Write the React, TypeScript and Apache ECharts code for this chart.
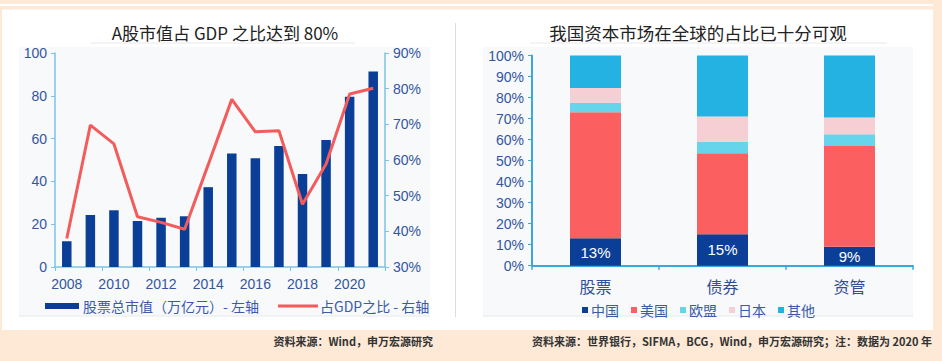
import React, { useEffect, useRef } from "react";
import * as echarts from "echarts";

const years = ["2008", "2009", "2010", "2011", "2012", "2013", "2014", "2015", "2016", "2017", "2018", "2019", "2020", "2021"];
const marketCap = [12, 24.3, 26.5, 21.5, 23, 23.7, 37.3, 53, 50.8, 56.5, 43.5, 59.3, 79.6, 91.3];
const gdpRatio = [38, 69.8, 64.5, 44.1, 42.5, 40.6, 58.7, 77, 67.9, 68.2, 47.6, 58.9, 78.5, 80.1];

const assetTypes = ["股票", "债券", "资管"];
const china = [13, 15, 9];
const usa = [60, 38.5, 48];
const eu = [4.5, 5.5, 5.5];
const japan = [7, 12, 8];
const others = [15.5, 29, 29.5];

const FONT = '"Noto Sans CJK SC", "Noto Sans", sans-serif';
const NUMFONT = '"Liberation Sans", "Noto Sans CJK SC", sans-serif';
const LABEL_BLUE = "#34559e";

export default function App() {
  const ref = useRef<HTMLDivElement>(null);
  useEffect(() => {
    document.body.style.margin = "0";
    const chart = echarts.init(ref.current!, undefined, { renderer: "svg" });
    const option: any = {
      animation: false,
      backgroundColor: "#fde9d6",
      textStyle: { fontFamily: FONT },
      graphic: [
        { type: "rect", z: -10, shape: { x: 0, y: 4, width: 933, height: 2 }, style: { fill: "#ffffff" } },
        { type: "rect", z: -10, shape: { x: 2, y: 9.5, width: 931, height: 320.5 }, style: { fill: "#ffffff" } },
        { type: "rect", z: -9, shape: { x: 19, y: 47, width: 411, height: 269 }, style: { fill: "#f7f9fb" } },
        { type: "rect", z: -9, shape: { x: 483, y: 47, width: 430, height: 269 }, style: { fill: "#f7f9fb" } },
        { type: "line", z: -8, shape: { x1: 19, y1: 316, x2: 430, y2: 316 }, style: { stroke: "#e6e8ea", lineWidth: 1 } },
        { type: "line", z: -8, shape: { x1: 483, y1: 316, x2: 913, y2: 316 }, style: { stroke: "#e6e8ea", lineWidth: 1 } },
        { type: "line", z: -8, shape: { x1: 91, y1: 43, x2: 355, y2: 43 }, style: { stroke: "#e8e8e8", lineWidth: 1 } },
        { type: "line", z: -8, shape: { x1: 530, y1: 43, x2: 887, y2: 43 }, style: { stroke: "#e8e8e8", lineWidth: 1 } },
        { type: "line", z: -8, shape: { x1: 455.5, y1: 23, x2: 455.5, y2: 317 }, style: { stroke: "#dcdcdc", lineWidth: 1 } },
        {
          type: "text", x: 225, y: 32,
          style: { text: "A股市值占 GDP 之比达到 80%", fill: "#222222", font: `17px ${FONT}`, textAlign: "center", textVerticalAlign: "middle" },
        },
        {
          type: "text", x: 698, y: 32,
          style: { text: "我国资本市场在全球的占比已十分可观", fill: "#222222", font: `17.5px ${FONT}`, textAlign: "center", textVerticalAlign: "middle" },
        },
        {
          type: "text", x: 433, y: 341,
          style: { text: "资料来源：Wind，申万宏源研究", fill: "#333333", font: `bold 11px ${FONT}`, textAlign: "right", textVerticalAlign: "middle" },
        },
        {
          type: "text", x: 932, y: 341,
          style: { text: "资料来源：世界银行，SIFMA，BCG，Wind，申万宏源研究；注：数据为 2020 年", fill: "#333333", font: `bold 11px ${FONT}`, textAlign: "right", textVerticalAlign: "middle" },
        },
      ],
      legend: [
        {
          left: 40, top: 294, itemWidth: 34, itemHeight: 6,
          data: [{ name: "股票总市值（万亿元）- 左轴", icon: "rect" }],
          textStyle: { color: "#3b5aa8", fontSize: 14, fontFamily: FONT, padding: [0, 0, 0, -1] },
        },
        {
          left: 273, top: 294, itemWidth: 40, itemHeight: 6,
          data: [{ name: "占GDP之比 - 右轴", icon: "path://M0 0h40v3H0z" }],
          textStyle: { color: "#3b5aa8", fontSize: 14, fontFamily: FONT, padding: [0, 0, 0, -3] },
        },
        {
          left: 577, top: 298, itemWidth: 6, itemHeight: 6, itemGap: 12, icon: "rect",
          data: ["中国", "美国", "欧盟", "日本", "其他"],
          textStyle: { color: "#3b5aa8", fontSize: 14, fontFamily: FONT, padding: [0, 0, 0, -2] },
        },
      ],
      grid: [
        { left: 55, right: 557, top: 53, bottom: 94 },
        { left: 532, right: 29, top: 55.5, bottom: 95.3 },
      ],
      xAxis: [
        {
          type: "category", gridIndex: 0, data: years,
          axisLine: { lineStyle: { color: "#7cc3e6", width: 1.5 } },
          axisTick: { show: true, interval: 1, length: 4, lineStyle: { color: "#7cc3e6" } },
          axisLabel: { interval: 1, color: LABEL_BLUE, fontSize: 14, margin: 10, fontFamily: NUMFONT },
        },
        {
          type: "category", gridIndex: 1, data: assetTypes,
          axisLine: { lineStyle: { color: "#3aa8de", width: 2 } },
          axisTick: { show: true, length: 4, lineStyle: { color: "#3aa8de", width: 1.5 } },
          axisLabel: { color: "#2f4f96", fontSize: 16, margin: 12, fontFamily: FONT },
        },
      ],
      yAxis: [
        {
          type: "value", gridIndex: 0, min: 0, max: 100, interval: 20,
          axisLine: { show: true, lineStyle: { color: "#7cc3e6", width: 1.5 } },
          axisTick: { show: true, length: 4, lineStyle: { color: "#7cc3e6" } },
          splitLine: { show: false },
          axisLabel: { color: LABEL_BLUE, fontSize: 14, margin: 8, fontFamily: NUMFONT },
        },
        {
          type: "value", gridIndex: 0, position: "right", min: 30, max: 90, interval: 10,
          axisLine: { show: true, lineStyle: { color: "#7cc3e6", width: 1.5 } },
          axisTick: { show: true, length: 4, lineStyle: { color: "#7cc3e6" } },
          splitLine: { show: false },
          axisLabel: { color: LABEL_BLUE, fontSize: 14, margin: 8, formatter: "{value}%", fontFamily: NUMFONT },
        },
        {
          type: "value", gridIndex: 1, min: 0, max: 100, interval: 10,
          axisLine: { show: true, lineStyle: { color: "#3aa8de", width: 2 } },
          axisTick: { show: true, length: 4, lineStyle: { color: "#3aa8de" } },
          splitLine: { show: false },
          axisLabel: { color: LABEL_BLUE, fontSize: 14, margin: 8, formatter: "{value}%", fontFamily: NUMFONT },
        },
      ],
      series: [
        {
          name: "股票总市值（万亿元）- 左轴", type: "bar", xAxisIndex: 0, yAxisIndex: 0,
          data: marketCap, barWidth: 9.5, itemStyle: { color: "#0b3f97" },
        },
        {
          name: "占GDP之比 - 右轴", type: "line", xAxisIndex: 0, yAxisIndex: 1,
          data: gdpRatio, symbol: "none", lineStyle: { color: "#f45b5b", width: 3 }, itemStyle: { color: "#f45b5b" },
        },
        {
          name: "中国", type: "bar", stack: "s", xAxisIndex: 1, yAxisIndex: 2, barWidth: 51,
          data: china, itemStyle: { color: "#0b3f97" },
          label: { show: true, position: "inside", color: "#ffffff", fontSize: 15, formatter: "{c}%", fontFamily: NUMFONT },
        },
        { name: "美国", type: "bar", stack: "s", xAxisIndex: 1, yAxisIndex: 2, barWidth: 51, data: usa, itemStyle: { color: "#fc5f5f" } },
        { name: "欧盟", type: "bar", stack: "s", xAxisIndex: 1, yAxisIndex: 2, barWidth: 51, data: eu, itemStyle: { color: "#66d4ea" } },
        { name: "日本", type: "bar", stack: "s", xAxisIndex: 1, yAxisIndex: 2, barWidth: 51, data: japan, itemStyle: { color: "#f6cfd4" } },
        { name: "其他", type: "bar", stack: "s", xAxisIndex: 1, yAxisIndex: 2, barWidth: 51, data: others, itemStyle: { color: "#23b2e2" } },
      ],
    };
    chart.setOption(option);
    return () => chart.dispose();
  }, []);
  return <div ref={ref} style={{ width: 942, height: 361 }} />;
}
